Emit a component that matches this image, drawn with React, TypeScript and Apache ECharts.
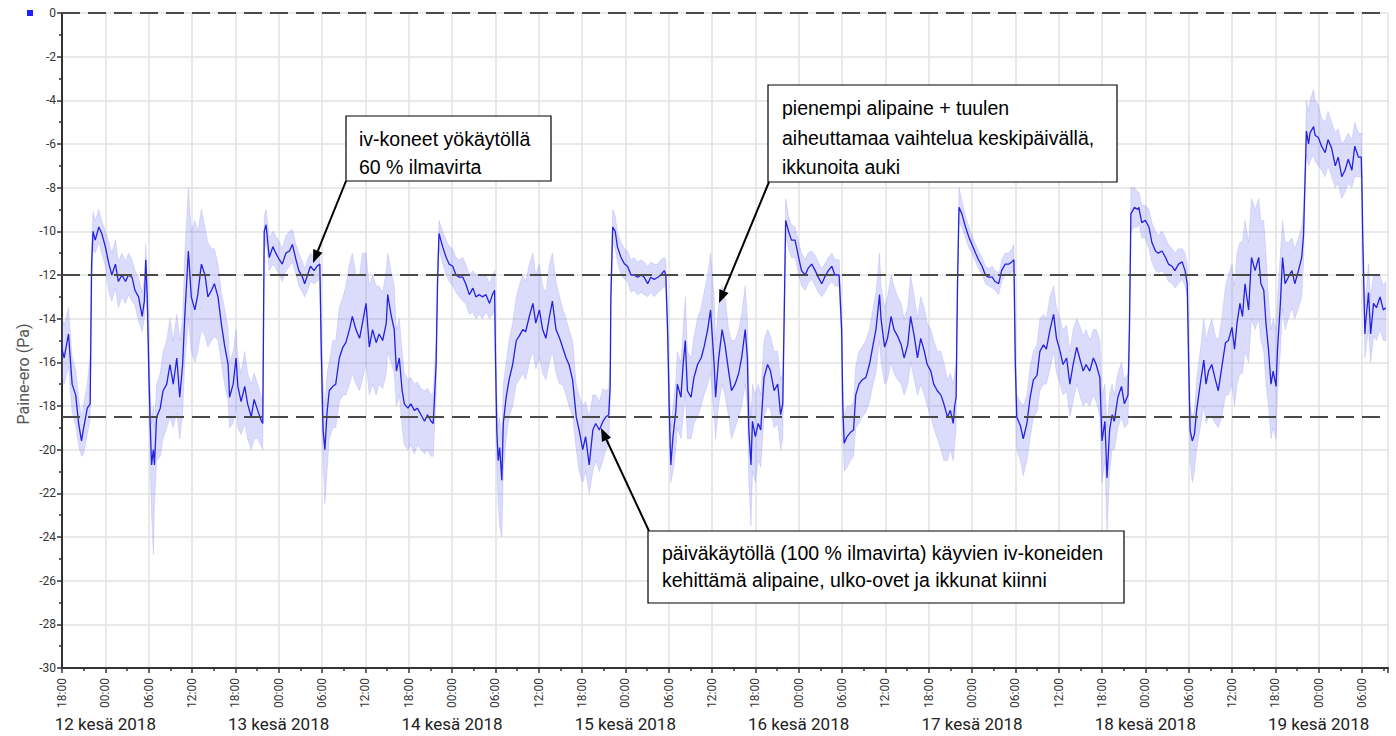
import { useEffect, useRef } from "react";
import * as echarts from "echarts";

// Each point: [hours since 11 Jun 2018 18:00, mean Pa, low Pa, high Pa]
type P = [number, number, number, number];

const eve11: P[] = [
  [-0.3, -15.0, -16.3, -13.5], [0.3, -15.8, -17.0, -14.3], [0.9, -14.7, -16.2, -13.5], [1.4, -17.0, -18.3, -15.8],
  [1.9, -17.5, -18.9, -16.3], [2.3, -18.8, -19.8, -17.6], [2.7, -19.6, -20.3, -18.5], [3.0, -19.0, -20.2, -17.9],
  [3.5, -18.1, -19.3, -17.0], [3.9, -17.9, -18.6, -15.6],
];
const night12: P[] = [
  [4.1, -11.5, -12.5, -10.5], [4.3, -10.0, -10.8, -9.1], [4.6, -10.4, -11.0, -9.5], [5.1, -9.8, -10.5, -9.0],
  [5.5, -10.1, -11.0, -9.5], [6.0, -10.7, -11.6, -10.0], [6.5, -11.5, -12.8, -10.5], [6.9, -12.0, -13.2, -11.0],
  [7.4, -11.5, -12.6, -10.4], [7.8, -12.3, -13.5, -11.4], [8.3, -12.0, -13.0, -11.0], [8.8, -12.3, -13.3, -11.4],
  [9.2, -12.0, -12.9, -11.0], [9.7, -12.1, -13.2, -11.3], [10.1, -12.7, -13.4, -11.8], [10.6, -13.0, -14.1, -12.1],
  [11.1, -13.9, -14.6, -12.8], [11.4, -13.2, -14.0, -12.2], [11.6, -11.3, -12.4, -10.6], [11.8, -13.0, -13.8, -12.0],
];
const day12: P[] = [
  [12.05, -16.8, -17.5, -15.5], [12.2, -18.7, -20.5, -17.0], [12.4, -20.7, -23.0, -18.8], [12.65, -20.0, -24.8, -18.0],
  [12.8, -20.7, -22.5, -19.0], [13.1, -18.5, -20.5, -17.0], [13.6, -18.1, -20.3, -16.5], [14.0, -17.3, -19.5, -15.5],
  [14.5, -17.0, -19.0, -15.0], [14.95, -16.1, -18.5, -14.0], [15.4, -17.0, -19.0, -15.0], [15.9, -15.8, -18.3, -13.8],
  [16.3, -17.6, -19.5, -15.0], [16.7, -16.1, -18.4, -14.0], [17.0, -13.9, -16.0, -11.0], [17.5, -10.9, -14.0, -8.0],
  [17.9, -13.0, -15.5, -10.0], [18.4, -13.6, -16.0, -9.5], [18.8, -12.9, -15.5, -10.0], [19.3, -11.5, -14.5, -9.0],
  [19.8, -12.0, -14.8, -9.8], [20.2, -13.0, -15.3, -10.5], [20.7, -12.7, -15.0, -10.8], [21.1, -12.4, -14.8, -10.8],
  [21.6, -13.0, -15.0, -11.5], [22.05, -14.2, -16.0, -12.8], [22.5, -15.2, -17.0, -13.5], [23.0, -16.1, -17.8, -14.5],
  [23.2, -17.6, -19.0, -16.0], [23.7, -17.0, -18.8, -15.5], [24.1, -15.8, -18.0, -14.5], [24.35, -17.1, -19.0, -15.8],
  [24.8, -17.8, -19.3, -16.5], [25.3, -17.1, -18.8, -15.5], [25.7, -17.9, -19.5, -16.5], [26.2, -18.5, -20.0, -17.0],
  [26.6, -17.7, -19.5, -16.5], [27.1, -18.2, -19.5, -17.0], [27.5, -18.6, -19.8, -17.5], [27.8, -18.8, -20.0, -17.8],
];
const night13: P[] = [
  [28.0, -10.0, -11.0, -9.3], [28.25, -9.7, -10.4, -9.0], [28.7, -11.2, -11.8, -10.3], [29.2, -10.7, -11.5, -10.0],
  [29.6, -11.0, -11.7, -10.2], [30.1, -11.3, -12.0, -10.5], [30.5, -11.5, -12.3, -10.8], [31.0, -11.0, -11.8, -10.2],
  [31.5, -10.9, -11.6, -10.0], [31.9, -10.6, -11.4, -9.9], [32.4, -11.3, -12.0, -10.6], [32.8, -11.8, -12.5, -11.0],
  [33.3, -12.1, -12.8, -11.4], [33.6, -12.4, -13.0, -11.7], [34.0, -12.0, -12.7, -11.3], [34.4, -11.6, -12.3, -11.0],
  [34.9, -11.8, -12.4, -11.2], [35.3, -11.6, -12.3, -11.0], [35.7, -11.5, -12.2, -11.0],
];
const day13: P[] = [
  [35.9, -15.5, -16.5, -14.5], [36.15, -19.1, -20.5, -17.0], [36.4, -20.0, -22.5, -18.0], [36.7, -18.3, -21.0, -16.5],
  [37.0, -17.3, -19.5, -16.0], [37.5, -17.1, -19.0, -15.0], [37.9, -17.0, -19.0, -15.0], [38.4, -15.8, -17.8, -13.5],
  [38.9, -15.3, -17.5, -13.0], [39.3, -15.1, -17.5, -12.5], [39.8, -14.5, -17.0, -11.5], [40.2, -13.9, -16.5, -11.0],
  [40.7, -14.5, -17.0, -12.0], [41.2, -14.9, -17.3, -12.0], [41.6, -14.2, -16.8, -11.0], [42.1, -13.3, -16.0, -11.0],
  [42.55, -15.3, -17.5, -12.5], [43.0, -14.5, -17.0, -12.0], [43.5, -15.1, -17.5, -12.5], [43.9, -14.7, -17.0, -12.5],
  [44.4, -15.0, -17.2, -12.8], [44.9, -14.2, -16.5, -11.8], [45.1, -12.9, -15.5, -11.0], [45.55, -13.8, -16.0, -11.8],
  [46.0, -14.5, -16.5, -12.5], [46.3, -16.4, -18.0, -14.5], [46.7, -15.8, -17.5, -14.0], [47.1, -17.3, -19.0, -15.5],
  [47.4, -17.9, -19.8, -16.5], [47.9, -18.1, -20.0, -16.8], [48.3, -17.9, -19.8, -16.7], [48.8, -18.2, -20.2, -17.0],
  [49.2, -18.1, -19.8, -16.9], [49.7, -18.4, -20.0, -17.2], [50.2, -18.7, -20.2, -17.3], [50.6, -18.4, -20.0, -17.2],
  [51.1, -18.7, -20.3, -17.5], [51.4, -18.8, -20.3, -17.4], [51.8, -16.1, -17.5, -15.0],
];
const night14: P[] = [
  [52.0, -12.3, -13.0, -11.5], [52.2, -10.1, -10.8, -9.5], [52.7, -10.7, -11.5, -10.0], [53.2, -11.2, -12.0, -10.4],
  [53.6, -11.5, -12.3, -10.7], [54.1, -11.6, -12.5, -10.8], [54.55, -12.0, -12.8, -11.2], [55.0, -12.1, -13.0, -11.3],
  [55.5, -12.1, -13.2, -11.2], [55.9, -12.4, -13.3, -11.5], [56.4, -12.9, -13.8, -12.0], [56.9, -12.6, -13.7, -11.8],
  [57.3, -13.0, -14.0, -12.0], [57.8, -12.9, -13.8, -12.0], [58.2, -13.0, -14.0, -12.0], [58.7, -12.9, -13.7, -12.0],
  [59.2, -13.3, -14.0, -12.4], [59.6, -12.9, -13.8, -12.0], [59.9, -12.7, -13.6, -11.8],
];
const day14: P[] = [
  [60.0, -15.3, -16.0, -14.5], [60.2, -19.1, -20.5, -17.5], [60.4, -20.5, -22.5, -19.0], [60.6, -19.9, -23.5, -18.5],
  [60.9, -21.4, -24.0, -19.5], [61.1, -18.8, -21.0, -17.0], [61.5, -17.6, -19.5, -16.0], [61.9, -16.8, -18.5, -15.0],
  [62.4, -16.1, -18.0, -14.2], [62.9, -15.0, -17.0, -13.0], [63.3, -14.8, -16.8, -12.5], [63.8, -14.5, -16.5, -12.0],
  [64.2, -14.6, -16.8, -12.3], [64.7, -13.9, -16.0, -11.5], [65.2, -13.3, -15.5, -11.0], [65.6, -14.2, -16.3, -12.0],
  [66.1, -13.6, -15.8, -11.5], [66.55, -14.5, -16.5, -12.5], [67.0, -14.9, -16.8, -12.8], [67.5, -13.9, -16.0, -11.5],
  [67.9, -13.2, -15.5, -11.0], [68.4, -14.5, -16.5, -12.3], [68.9, -14.9, -17.0, -13.0], [69.3, -15.3, -17.0, -13.5],
  [69.8, -15.8, -17.5, -14.0], [70.2, -16.1, -18.0, -14.5], [70.7, -16.8, -18.5, -15.0], [71.2, -18.5, -20.0, -17.0],
  [71.6, -19.1, -21.0, -17.5], [72.1, -20.0, -21.5, -18.0], [72.5, -19.4, -21.0, -17.8], [73.0, -20.7, -22.0, -18.5],
  [73.5, -19.1, -21.0, -17.5], [73.9, -18.8, -20.5, -17.5], [74.4, -19.1, -21.0, -17.8], [74.9, -18.7, -20.5, -17.2],
  [75.3, -18.5, -20.0, -17.3], [75.7, -18.4, -19.8, -17.2], [75.9, -17.1, -18.0, -16.0],
];
const night15: P[] = [
  [76.0, -13.0, -13.5, -12.0], [76.25, -9.8, -10.5, -9.0], [76.6, -10.0, -10.8, -9.3], [76.9, -10.7, -11.4, -10.0],
  [77.4, -11.2, -12.0, -10.5], [77.9, -11.5, -12.2, -10.8], [78.3, -11.6, -12.3, -10.9], [78.8, -12.0, -12.8, -11.3],
  [79.2, -12.0, -12.7, -11.2], [79.7, -12.1, -12.9, -11.4], [80.2, -12.0, -12.8, -11.3], [80.6, -12.1, -12.9, -11.4],
  [81.1, -12.4, -13.0, -11.6], [81.5, -12.1, -12.8, -11.4], [82.0, -12.2, -13.0, -11.5], [82.5, -12.1, -12.8, -11.5],
  [82.9, -12.0, -12.7, -11.3], [83.4, -11.8, -12.5, -11.2], [83.6, -12.0, -12.6, -11.3],
];
const day15: P[] = [
  [83.85, -14.5, -15.3, -13.8], [84.1, -18.4, -19.5, -17.0], [84.3, -20.7, -21.5, -19.0], [84.6, -19.4, -21.0, -18.0],
  [85.0, -18.2, -20.0, -16.8], [85.2, -17.0, -19.0, -15.5], [85.7, -17.6, -19.5, -16.0], [86.0, -16.1, -18.5, -14.5],
  [86.3, -15.0, -17.5, -13.0], [86.6, -17.3, -19.5, -15.5], [87.1, -17.6, -19.5, -15.8], [87.5, -16.7, -18.8, -14.8],
  [88.0, -16.1, -18.5, -14.0], [88.5, -15.8, -18.0, -13.5], [88.9, -15.3, -17.5, -12.8], [89.4, -14.5, -17.0, -12.0],
  [89.8, -13.6, -16.5, -11.0], [90.3, -16.1, -18.5, -13.0], [90.5, -17.6, -19.5, -15.0], [90.9, -15.9, -18.0, -13.5],
  [91.4, -14.5, -17.0, -12.5], [91.8, -15.2, -17.5, -13.0], [92.3, -16.4, -18.5, -14.5], [92.7, -17.3, -19.5, -15.0],
  [93.2, -17.0, -19.0, -15.0], [93.7, -16.5, -18.5, -14.5], [94.1, -15.8, -18.0, -13.8], [94.6, -14.5, -17.0, -12.5],
  [94.9, -15.8, -18.0, -14.0], [95.1, -19.1, -21.5, -17.0], [95.4, -20.7, -23.5, -18.5], [95.6, -18.7, -21.0, -17.0],
  [96.0, -19.4, -21.5, -17.5], [96.4, -18.8, -20.5, -17.0], [96.75, -19.1, -20.8, -17.5], [97.2, -16.7, -18.5, -15.0],
  [97.7, -16.1, -18.0, -14.5], [98.1, -16.4, -18.2, -14.8], [98.6, -17.3, -19.0, -15.5], [99.1, -17.0, -18.8, -15.5],
  [99.5, -18.4, -20.0, -16.8], [99.8, -17.9, -19.5, -16.5],
];
const night16: P[] = [
  [100.0, -13.8, -14.5, -13.0], [100.2, -9.5, -10.2, -8.5], [100.6, -10.0, -10.8, -9.3], [101.0, -10.4, -11.2, -9.7],
  [101.5, -10.4, -11.2, -9.8], [102.0, -11.2, -12.0, -10.5], [102.4, -11.8, -12.5, -11.0], [102.9, -12.0, -12.7, -11.3],
  [103.3, -11.7, -12.4, -11.0], [103.8, -11.5, -12.2, -10.9], [104.3, -11.8, -12.5, -11.1], [104.7, -12.1, -12.8, -11.4],
  [105.2, -12.4, -13.0, -11.7], [105.6, -12.1, -12.8, -11.5], [106.1, -11.8, -12.5, -11.2], [106.6, -11.6, -12.3, -11.0],
  [107.0, -12.0, -12.5, -11.3], [107.6, -12.0, -12.5, -11.3],
];
const day16: P[] = [
  [107.95, -14.5, -15.2, -13.8], [108.1, -17.9, -19.0, -17.0], [108.3, -19.7, -21.0, -18.5], [108.7, -19.4, -20.8, -18.0],
  [109.2, -19.2, -20.5, -18.0], [109.6, -19.1, -20.3, -17.8], [109.9, -17.5, -19.0, -16.2], [110.35, -17.0, -18.8, -15.5],
  [110.8, -16.8, -18.5, -15.3], [111.3, -16.7, -18.3, -15.0], [111.8, -16.1, -17.8, -14.5], [112.3, -15.2, -17.0, -13.5],
  [112.7, -14.5, -16.5, -12.8], [113.2, -12.9, -15.0, -11.0], [113.4, -14.0, -16.0, -12.5], [113.9, -15.3, -17.0, -13.5],
  [114.3, -14.9, -16.8, -13.0], [114.8, -13.9, -16.0, -12.0], [115.2, -14.5, -16.5, -12.5], [115.7, -14.8, -16.8, -13.0],
  [116.2, -15.2, -17.0, -13.3], [116.6, -15.8, -17.5, -14.0], [117.1, -15.2, -17.0, -13.5], [117.5, -13.9, -16.0, -12.0],
  [118.0, -14.8, -16.8, -13.0], [118.45, -15.8, -17.5, -14.0], [118.9, -14.9, -17.0, -13.0], [119.4, -15.5, -17.5, -13.5],
  [119.8, -16.1, -18.0, -14.2], [120.3, -16.4, -18.5, -14.5], [120.7, -17.0, -19.0, -15.0], [121.2, -17.3, -19.5, -15.5],
  [121.7, -17.5, -20.0, -15.5], [122.1, -17.9, -20.5, -16.0], [122.6, -18.5, -20.5, -16.8], [123.0, -18.2, -20.0, -16.5],
  [123.4, -18.8, -20.5, -17.0], [123.6, -18.0, -19.8, -16.5], [123.8, -17.6, -19.0, -16.0],
];
const night17: P[] = [
  [124.0, -12.3, -13.0, -11.5], [124.2, -8.9, -9.6, -8.0], [124.6, -9.2, -9.8, -8.6], [125.1, -9.8, -10.3, -9.3],
  [125.6, -10.3, -10.8, -9.8], [126.0, -10.6, -11.0, -10.2], [126.5, -11.0, -11.4, -10.6], [126.9, -11.3, -11.7, -10.9],
  [127.4, -11.6, -12.0, -11.2], [127.85, -12.0, -12.4, -11.6], [128.3, -12.1, -12.5, -11.7], [128.8, -12.1, -12.6, -11.6],
  [129.2, -12.3, -12.7, -11.8], [129.7, -12.4, -12.9, -11.9], [129.9, -12.1, -12.6, -11.7], [130.1, -11.8, -12.3, -11.3],
  [130.6, -11.5, -12.0, -11.0], [131.1, -11.5, -12.0, -11.0], [131.5, -11.4, -11.9, -10.8], [131.8, -11.3, -11.8, -10.6],
];
const day17: P[] = [
  [132.0, -16.1, -17.0, -15.0], [132.2, -18.5, -20.0, -17.5], [132.7, -18.9, -20.5, -17.8], [133.1, -19.5, -21.2, -18.0],
  [133.6, -18.8, -20.5, -17.5], [134.05, -17.6, -19.5, -16.2], [134.5, -16.8, -18.5, -15.5], [135.0, -16.6, -18.3, -15.2],
  [135.4, -15.5, -17.3, -14.0], [135.9, -15.2, -17.0, -13.8], [136.3, -15.4, -17.0, -14.0], [136.8, -14.5, -16.3, -13.0],
  [137.3, -13.8, -15.5, -12.5], [137.7, -14.9, -16.5, -13.5], [138.2, -15.5, -17.0, -14.0], [138.6, -16.1, -17.5, -14.5],
  [139.1, -15.8, -17.3, -14.3], [139.55, -17.0, -18.5, -15.5], [140.0, -16.1, -17.8, -14.5], [140.5, -15.3, -17.0, -14.0],
  [140.9, -15.8, -17.5, -14.3], [141.4, -16.4, -18.0, -14.8], [141.8, -16.1, -17.8, -14.5], [142.3, -16.4, -18.0, -15.0],
  [142.8, -15.8, -17.5, -14.5], [143.2, -16.1, -17.8, -14.5], [143.7, -16.7, -18.5, -15.0], [144.0, -19.6, -21.5, -17.5],
  [144.4, -18.7, -20.5, -17.0], [144.7, -21.3, -23.8, -19.0], [145.05, -19.1, -21.0, -17.5], [145.4, -18.4, -20.0, -17.0],
  [145.7, -18.7, -20.0, -17.5], [146.2, -17.6, -19.0, -16.5], [146.7, -17.1, -18.5, -16.0], [147.1, -17.9, -19.0, -16.8],
  [147.6, -17.5, -18.8, -16.5], [147.8, -14.5, -15.5, -13.5],
];
const night18: P[] = [
  [148.0, -9.2, -10.0, -8.0], [148.5, -8.9, -9.8, -8.0], [148.95, -9.0, -9.8, -8.2], [149.1, -8.9, -9.6, -8.2],
  [149.5, -9.6, -10.3, -8.8], [150.0, -9.5, -10.3, -8.8], [150.5, -9.8, -10.8, -9.0], [150.9, -10.5, -11.4, -9.6],
  [151.4, -10.9, -11.8, -10.0], [151.8, -11.0, -11.9, -10.2], [152.3, -10.9, -11.8, -10.0], [152.8, -11.2, -12.0, -10.3],
  [153.2, -11.5, -12.3, -10.6], [153.7, -11.6, -12.4, -10.8], [154.1, -11.8, -12.6, -11.0], [154.6, -11.5, -12.4, -10.8],
  [155.1, -11.4, -12.2, -10.8], [155.5, -11.8, -12.5, -11.0], [155.8, -12.4, -13.0, -11.5],
];
const day18: P[] = [
  [156.0, -16.0, -17.0, -15.0], [156.2, -19.1, -20.5, -18.0], [156.5, -19.6, -21.5, -18.5], [156.8, -19.3, -21.0, -18.2],
  [157.1, -18.2, -20.0, -16.8], [157.6, -17.0, -19.0, -15.5], [158.1, -15.9, -18.0, -14.0], [158.4, -17.0, -18.8, -15.0],
  [158.75, -16.4, -18.5, -14.5], [159.2, -16.1, -18.5, -14.0], [159.7, -16.8, -18.8, -14.8], [160.1, -17.3, -19.0, -15.0],
  [160.6, -16.2, -18.5, -14.0], [161.1, -15.1, -17.5, -12.5], [161.5, -15.0, -17.5, -12.0], [162.0, -14.4, -17.0, -11.5],
  [162.35, -15.4, -18.0, -12.5], [162.7, -14.2, -17.0, -11.0], [163.1, -13.3, -16.5, -10.5], [163.45, -13.9, -16.5, -10.5],
  [163.8, -12.4, -15.5, -9.5], [164.3, -13.6, -16.0, -10.5], [164.7, -11.2, -14.0, -8.5], [165.2, -11.8, -14.5, -9.0],
  [165.7, -11.2, -14.0, -8.5], [166.0, -12.4, -15.0, -9.5], [166.4, -12.7, -15.5, -9.5], [166.7, -14.2, -17.0, -11.0],
  [167.05, -15.4, -18.0, -13.0], [167.4, -17.0, -19.5, -14.5], [167.7, -16.4, -19.0, -14.0], [168.1, -17.1, -19.5, -14.5],
  [168.3, -15.4, -17.5, -13.0], [168.7, -13.3, -15.5, -11.0], [169.0, -11.2, -13.5, -9.5], [169.35, -12.4, -14.5, -10.5],
  [169.8, -12.1, -14.0, -10.5], [170.3, -11.8, -13.5, -10.3], [170.7, -12.4, -14.0, -10.8], [171.2, -11.8, -13.5, -10.3],
  [171.65, -11.2, -13.0, -9.8], [171.9, -10.2, -11.5, -9.0],
];
const night19: P[] = [
  [172.1, -7.8, -8.5, -7.0], [172.3, -5.4, -6.5, -4.0], [172.6, -6.0, -7.0, -4.5], [172.8, -5.5, -6.8, -4.0],
  [173.3, -5.2, -6.5, -3.5], [173.5, -5.6, -6.8, -4.0], [173.95, -5.7, -7.0, -4.2], [174.4, -6.1, -7.2, -4.8],
  [174.9, -6.4, -7.5, -5.0], [175.3, -5.8, -7.0, -4.5], [175.8, -6.2, -7.5, -5.0], [176.3, -7.0, -8.0, -5.5],
  [176.7, -6.6, -7.8, -5.3], [177.2, -7.5, -8.5, -6.0], [177.65, -7.2, -8.2, -5.8], [178.1, -6.7, -7.8, -5.5],
  [178.6, -7.2, -8.0, -5.8], [179.0, -6.1, -7.5, -5.0], [179.5, -6.6, -7.5, -5.5], [179.9, -6.6, -7.5, -5.5],
];
const morning19: P[] = [
  [180.0, -8.1, -9.0, -7.5], [180.1, -10.2, -11.0, -9.5], [180.4, -14.7, -15.8, -13.5], [180.5, -14.2, -15.5, -13.0],
  [180.9, -12.8, -14.5, -11.5], [181.2, -14.7, -16.0, -13.0], [181.6, -13.3, -14.8, -12.0], [182.0, -13.5, -15.0, -12.0],
  [182.5, -13.0, -14.5, -12.0], [182.95, -13.6, -15.0, -12.5], [183.3, -13.5, -15.0, -12.3],
];

const allPoints: P[] = [
  ...eve11, ...night12, ...day12, ...night13, ...day13, ...night14, ...day14, ...night15, ...day15,
  ...night16, ...day16, ...night17, ...day17, ...night18, ...day18, ...night19, ...morning19,
];

const hourLabels = ["18:00", "00:00", "06:00", "12:00"];
const dayLabels = ["12 kesä 2018", "13 kesä 2018", "14 kesä 2018", "15 kesä 2018", "16 kesä 2018", "17 kesä 2018", "18 kesä 2018", "19 kesä 2018"];
const refLines = [0, -12, -18.5];
const yAxisTitle = "Paine-ero (Pa)";
const notes = [
  { lines: ["iv-koneet yökäytöllä", "60 % ilmavirta"] },
  { lines: ["pienempi alipaine + tuulen", "aiheuttamaa vaihtelua keskipäivällä,", "ikkunoita auki"] },
  { lines: ["päiväkäytöllä (100 % ilmavirta) käyvien iv-koneiden", "kehittämä alipaine, ulko-ovet ja ikkunat kiinni"] },
];

function arrow(x1: number, y1: number, x2: number, y2: number) {
  const ang = Math.atan2(y2 - y1, x2 - x1);
  const L = 13, W = 5;
  const bx = x2 - L * Math.cos(ang), by = y2 - L * Math.sin(ang);
  const px = -Math.sin(ang) * W, py = Math.cos(ang) * W;
  return [
    { type: "line", shape: { x1, y1, x2: bx, y2: by }, style: { stroke: "#000", lineWidth: 2 }, z: 100 },
    { type: "polygon", shape: { points: [[x2, y2], [bx + px, by + py], [bx - px, by - py]] }, style: { fill: "#000" }, z: 100 },
  ];
}

function noteBox(x: number, y: number, w: number, h: number, lines: string[], lineYs: number[], tx: number) {
  const els: any[] = [
    { type: "rect", shape: { x, y, width: w, height: h }, style: { fill: "#fff", stroke: "#000", lineWidth: 1.2 }, z: 100 },
  ];
  lines.forEach((t, i) => {
    els.push({
      type: "text", x: tx, y: lineYs[i], z: 101,
      style: { text: t, fontSize: 19.5, fontFamily: "Liberation Sans, Arial, sans-serif", fill: "#000", verticalAlign: "middle" },
    });
  });
  return els;
}

export default function App() {
  const ref = useRef<HTMLDivElement>(null);
  useEffect(() => {
    if (!ref.current) return;
    const chart = echarts.init(ref.current, undefined, { renderer: "svg" });
    const font = "Roboto, sans-serif";
    const graphics: any[] = [
      { type: "rect", shape: { x: 27, y: 10, width: 6, height: 6 }, style: { fill: "#1f1fff" } },
      {
        type: "text", x: 23, y: 374, rotation: Math.PI / 2,
        style: { text: yAxisTitle, fontSize: 16, fontFamily: font, fill: "#555", align: "center", verticalAlign: "middle" },
      },
      ...noteBox(346, 116, 205, 65, notes[0].lines, [139, 167], 359),
      ...arrow(346, 181, 313, 263),
      ...noteBox(768, 85, 349, 97, notes[1].lines, [108, 138, 167], 782),
      ...arrow(769, 182, 719, 303),
      ...noteBox(648, 531, 476, 72, notes[2].lines, [553, 580], 662),
      ...arrow(649, 531, 601, 428),
    ];
    chart.setOption({
      animation: false,
      backgroundColor: "#fff",
      grid: { left: 62, right: 8, top: 13, bottom: 68, containLabel: false },
      xAxis: [
        {
          type: "value", min: 0, max: 183.6, interval: 6, position: "bottom",
          axisLine: { show: true, onZero: false, lineStyle: { color: "#333", width: 2 } },
          axisTick: { show: true, length: 5, lineStyle: { color: "#333", width: 1.5 } },
          minorTick: { show: true, splitNumber: 2, length: 3, lineStyle: { color: "#333", width: 1.5 } },
          splitLine: { show: true, lineStyle: { color: "#e2e2e2", width: 1.5 } },
          axisLabel: {
            rotate: 90, margin: 10, fontSize: 12, fontFamily: font, color: "#333",
            showMaxLabel: false,
            formatter: (v: number) => (Math.abs(v % 6) < 1e-6 ? hourLabels[Math.round(v / 6) % 4] : ""),
          },
        },
        {
          type: "value", min: 0, max: 183.6, interval: 6, position: "bottom", offset: 43,
          axisLine: { show: false }, axisTick: { show: false }, splitLine: { show: false },
          axisLabel: {
            margin: 4, fontSize: 17, fontFamily: font, color: "#222", showMaxLabel: false,
            formatter: (v: number) => {
              const k = Math.round(v);
              if ((k - 6) % 24 !== 0 || k < 6) return "";
              return dayLabels[(k - 6) / 24] ?? "";
            },
          },
        },
      ],
      yAxis: {
        type: "value", min: -30, max: 0, interval: 2,
        axisLine: { show: true, onZero: false, lineStyle: { color: "#333", width: 2 } },
        axisTick: { show: true, length: 5, lineStyle: { color: "#333", width: 1.5 } },
        minorTick: { show: true, splitNumber: 2, length: 3, lineStyle: { color: "#333", width: 1.5 } },
        splitLine: { show: true, lineStyle: { color: "#e2e2e2", width: 1.5 } },
        axisLabel: { fontSize: 12, fontFamily: font, color: "#333", margin: 6 },
      },
      graphic: { elements: graphics },
      series: [
        {
          type: "custom",
          coordinateSystem: "cartesian2d",
          clip: true,
          silent: true,
          z: 1,
          data: [[0, -15]],
          renderItem: (_params: any, api: any) => {
            const lower = allPoints.map((p) => api.coord([p[0], p[2]]));
            const upper = allPoints.map((p) => api.coord([p[0], p[3]])).reverse();
            return {
              type: "polygon",
              shape: { points: lower.concat(upper) },
              style: { fill: "rgba(125,125,245,0.28)", stroke: "rgba(125,125,245,0.2)", lineWidth: 1 },
            };
          },
        },
        {
          type: "line",
          z: 2,
          data: allPoints.map((p) => [p[0], p[1]]),
          showSymbol: false,
          symbol: "none",
          lineStyle: { color: "#2222e0", width: 1.3 },
          markLine: {
            silent: true,
            symbol: ["none", "none"],
            label: { show: false },
            lineStyle: { color: "#4a4a4a", width: 2, type: [18, 8] },
            data: refLines.map((v) => ({ yAxis: v })),
          },
        },
      ],
    });
    return () => chart.dispose();
  }, []);
  return <div ref={ref} style={{ position: "absolute", left: 0, top: 0, width: 1396, height: 736 }} />;
}
